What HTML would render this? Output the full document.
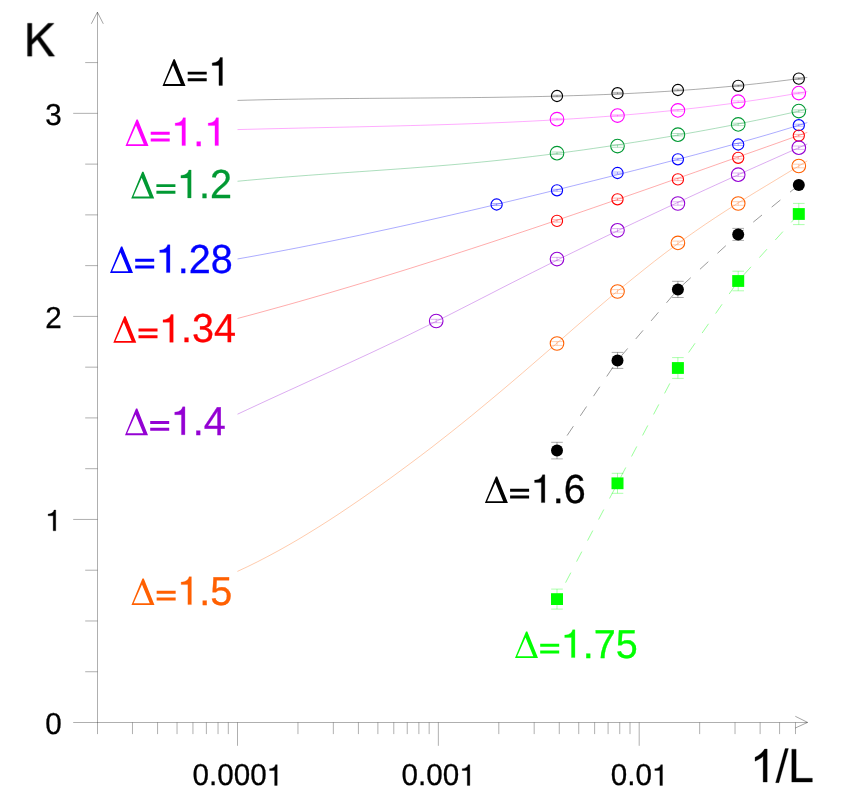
<!DOCTYPE html>
<html><head><meta charset="utf-8"><title>K vs 1/L</title>
<style>
html,body{margin:0;padding:0;background:#fff;}
svg{display:block;}
text{font-family:"Liberation Sans",sans-serif;font-kerning:none;text-rendering:geometricPrecision;}
.t{opacity:0.999;}
</style></head>
<body>
<svg width="848" height="809" viewBox="0 0 848 809">
<rect width="848" height="809" fill="#fff"/>
<path stroke="#000" stroke-width="0.32" fill="none" d="M97.5,734.1 V12.2 M73.2,722.5 H807.5 M85.2,671.74 H97.5 M85.2,620.98 H97.5 M85.2,570.21 H97.5 M73.2,519.45 H97.5 M85.2,468.69 H97.5 M85.2,417.92 H97.5 M85.2,367.16 H97.5 M73.2,316.40 H97.5 M85.2,265.64 H97.5 M85.2,214.88 H97.5 M85.2,164.11 H97.5 M73.2,113.35 H97.5 M85.2,62.59 H97.5 M132.48,722.5 V734.1 M157.57,722.5 V734.1 M177.04,722.5 V734.1 M192.94,722.5 V734.1 M206.39,722.5 V734.1 M218.04,722.5 V734.1 M228.31,722.5 V734.1 M237.50,722.5 V745.8 M297.96,722.5 V734.1 M333.33,722.5 V734.1 M358.42,722.5 V734.1 M377.89,722.5 V734.1 M393.79,722.5 V734.1 M407.24,722.5 V734.1 M418.89,722.5 V734.1 M429.16,722.5 V734.1 M438.35,722.5 V745.8 M498.81,722.5 V734.1 M534.18,722.5 V734.1 M559.27,722.5 V734.1 M578.74,722.5 V734.1 M594.64,722.5 V734.1 M608.09,722.5 V734.1 M619.74,722.5 V734.1 M630.01,722.5 V734.1 M639.20,722.5 V745.8 M699.66,722.5 V734.1 M735.03,722.5 V734.1 M760.12,722.5 V734.1 M779.59,722.5 V734.1 M795.49,722.5 V734.1"/>
<g stroke="#000" stroke-width="0.36" fill="none"><path d="M91.3,23.8 L97.4,12.2 L103.3,23.8"/><path d="M795.3,716.3 L807.6,722.4 L795.3,728"/></g>
<g class="t">
<g transform="translate(24.13,56.30)" fill="#000" stroke="#000" stroke-width="0.3"><path transform="translate(0.00,0) scale(46.0,-46.0)" stroke-width="0.00652" d="M0.0732,0 V0.7158 H0.168 V0.3608 L0.5234,0.7158 H0.6519 L0.3516,0.4258 L0.665,0 H0.54 L0.2852,0.3623 L0.168,0.248 V0 Z"/></g>
<g transform="translate(750.05,782.10)" fill="#000" stroke="#000" stroke-width="0.3"><path transform="translate(0.00,0) scale(46.0,-46.0)" stroke-width="0.00652" d="M0.3726,0 H0.2847 V0.5601 Q0.2529,0.5298 0.2014,0.4995 Q0.15,0.4692 0.1089,0.4541 V0.5391 Q0.1826,0.5737 0.2378,0.623 Q0.293,0.6724 0.3159,0.7188 H0.3726 Z"/><path transform="translate(25.58,0) scale(46.0,-46.0)" stroke-width="0.00652" d="M0,-0.0122 L0.2075,0.728 L0.2778,0.728 L0.0708,-0.0122 Z"/><path transform="translate(38.36,0) scale(46.0,-46.0)" stroke-width="0.00652" d="M0.0732,0 V0.7158 H0.168 V0.0845 H0.5205 V0 Z"/></g>
<g transform="translate(45.14,733.85)" fill="#000" stroke="#000" stroke-width="0.3"><text transform="translate(0.00,0) scale(1,1.022)" font-size="29.6">0</text></g>
<g transform="translate(45.14,530.80)" fill="#000" stroke="#000" stroke-width="0.3"><path transform="translate(0.00,0) scale(29.6,-29.6)" stroke-width="0.01014" d="M0.359,0 H0.271 V0.505 H0.101 V0.568 C0.19,0.574 0.275,0.6 0.301,0.703 H0.359 Z"/></g>
<g transform="translate(45.14,327.75)" fill="#000" stroke="#000" stroke-width="0.3"><text transform="translate(0.00,0) scale(1,1.022)" font-size="29.6">2</text></g>
<g transform="translate(45.14,124.70)" fill="#000" stroke="#000" stroke-width="0.3"><text transform="translate(0.00,0) scale(1,1.022)" font-size="29.6">3</text></g>
<g transform="translate(192.53,785.45)" fill="#000" stroke="#000" stroke-width="0.3"><text transform="translate(0.00,0) scale(1,1.022)" font-size="29.6">0.000</text><path transform="translate(74.07,0) scale(29.6,-29.6)" stroke-width="0.01014" d="M0.359,0 H0.271 V0.505 H0.101 V0.568 C0.19,0.574 0.275,0.6 0.301,0.703 H0.359 Z"/></g>
<g transform="translate(401.61,785.45)" fill="#000" stroke="#000" stroke-width="0.3"><text transform="translate(0.00,0) scale(1,1.022)" font-size="29.6">0.00</text><path transform="translate(57.61,0) scale(29.6,-29.6)" stroke-width="0.01014" d="M0.359,0 H0.271 V0.505 H0.101 V0.568 C0.19,0.574 0.275,0.6 0.301,0.703 H0.359 Z"/></g>
<g transform="translate(610.70,785.45)" fill="#000" stroke="#000" stroke-width="0.3"><text transform="translate(0.00,0) scale(1,1.022)" font-size="29.6">0.0</text><path transform="translate(41.15,0) scale(29.6,-29.6)" stroke-width="0.01014" d="M0.359,0 H0.271 V0.505 H0.101 V0.568 C0.19,0.574 0.275,0.6 0.301,0.703 H0.359 Z"/></g>
</g>
<path d="M237.5,100.41 L247.7,100.13 L257.9,99.89 L268.0,99.66 L278.2,99.46 L288.4,99.28 L298.6,99.12 L308.7,98.97 L318.9,98.84 L329.1,98.73 L339.2,98.62 L349.4,98.53 L359.6,98.44 L369.8,98.37 L379.9,98.29 L390.1,98.22 L400.3,98.16 L410.5,98.09 L420.6,98.02 L430.8,97.95 L441.0,97.87 L451.2,97.79 L461.3,97.70 L471.5,97.60 L481.7,97.48 L491.9,97.36 L502.0,97.21 L512.2,97.05 L522.4,96.88 L532.6,96.68 L542.8,96.46 L552.9,96.22 L563.1,95.95 L573.3,95.65 L583.5,95.33 L593.6,94.97 L603.8,94.58 L614.0,94.16 L624.1,93.70 L634.3,93.21 L644.5,92.68 L654.7,92.10 L664.8,91.49 L675.0,90.83 L685.2,90.12 L695.4,89.37 L705.5,88.56 L715.7,87.71 L725.9,86.80 L736.1,85.84 L746.2,84.83 L756.4,83.75 L766.6,82.62 L776.8,81.42 L786.9,80.17 L797.1,78.84 L807.3,77.45" fill="none" stroke="#000000" stroke-width="0.33"/>
<path d="M237.5,129.59 L247.7,129.32 L257.9,129.07 L268.0,128.82 L278.2,128.58 L288.4,128.35 L298.6,128.12 L308.7,127.90 L318.9,127.68 L329.1,127.46 L339.2,127.24 L349.4,127.02 L359.6,126.80 L369.8,126.57 L379.9,126.33 L390.1,126.09 L400.3,125.84 L410.5,125.57 L420.6,125.30 L430.8,125.01 L441.0,124.71 L451.2,124.39 L461.3,124.05 L471.5,123.70 L481.7,123.32 L491.9,122.92 L502.0,122.50 L512.2,122.05 L522.4,121.57 L532.6,121.07 L542.8,120.54 L552.9,119.97 L563.1,119.38 L573.3,118.75 L583.5,118.08 L593.6,117.38 L603.8,116.64 L614.0,115.86 L624.1,115.04 L634.3,114.18 L644.5,113.27 L654.7,112.32 L664.8,111.32 L675.0,110.27 L685.2,109.17 L695.4,108.02 L705.5,106.82 L715.7,105.57 L725.9,104.25 L736.1,102.88 L746.2,101.46 L756.4,99.97 L766.6,98.42 L776.8,96.81 L786.9,95.13 L797.1,93.39 L807.3,91.58" fill="none" stroke="#ff00ff" stroke-width="0.33"/>
<path d="M237.5,181.26 L247.7,180.30 L257.9,179.38 L268.0,178.50 L278.2,177.65 L288.4,176.84 L298.6,176.05 L308.7,175.29 L318.9,174.54 L329.1,173.81 L339.2,173.09 L349.4,172.38 L359.6,171.68 L369.8,170.97 L379.9,170.26 L390.1,169.54 L400.3,168.80 L410.5,168.05 L420.6,167.28 L430.8,166.49 L441.0,165.67 L451.2,164.82 L461.3,163.93 L471.5,163.00 L481.7,162.03 L491.9,161.01 L502.0,159.94 L512.2,158.83 L522.4,157.68 L532.6,156.48 L542.8,155.24 L552.9,153.95 L563.1,152.63 L573.3,151.26 L583.5,149.86 L593.6,148.41 L603.8,146.93 L614.0,145.42 L624.1,143.87 L634.3,142.29 L644.5,140.67 L654.7,139.02 L664.8,137.33 L675.0,135.60 L685.2,133.83 L695.4,132.03 L705.5,130.18 L715.7,128.29 L725.9,126.35 L736.1,124.37 L746.2,122.34 L756.4,120.27 L766.6,118.14 L776.8,115.97 L786.9,113.75 L797.1,111.47 L807.3,109.15" fill="none" stroke="#009933" stroke-width="0.33"/>
<path d="M237.5,258.98 L247.7,257.17 L257.9,255.31 L268.0,253.43 L278.2,251.52 L288.4,249.58 L298.6,247.61 L308.7,245.61 L318.9,243.59 L329.1,241.54 L339.2,239.46 L349.4,237.35 L359.6,235.22 L369.8,233.07 L379.9,230.89 L390.1,228.69 L400.3,226.46 L410.5,224.21 L420.6,221.94 L430.8,219.65 L441.0,217.34 L451.2,215.01 L461.3,212.66 L471.5,210.30 L481.7,207.91 L491.9,205.51 L502.0,203.09 L512.2,200.65 L522.4,198.20 L532.6,195.73 L542.8,193.25 L552.9,190.76 L563.1,188.25 L573.3,185.73 L583.5,183.20 L593.6,180.66 L603.8,178.11 L614.0,175.56 L624.1,173.00 L634.3,170.44 L644.5,167.86 L654.7,165.27 L664.8,162.66 L675.0,160.03 L685.2,157.38 L695.4,154.69 L705.5,151.99 L715.7,149.24 L725.9,146.46 L736.1,143.65 L746.2,140.79 L756.4,137.89 L766.6,134.94 L776.8,131.94 L786.9,128.88 L797.1,125.77 L807.3,122.60" fill="none" stroke="#0000ff" stroke-width="0.33"/>
<path d="M237.5,318.46 L247.7,315.75 L257.9,313.01 L268.0,310.23 L278.2,307.42 L288.4,304.58 L298.6,301.71 L308.7,298.80 L318.9,295.87 L329.1,292.91 L339.2,289.92 L349.4,286.90 L359.6,283.85 L369.8,280.78 L379.9,277.67 L390.1,274.55 L400.3,271.40 L410.5,268.22 L420.6,265.02 L430.8,261.80 L441.0,258.56 L451.2,255.29 L461.3,252.01 L471.5,248.70 L481.7,245.37 L491.9,242.03 L502.0,238.66 L512.2,235.28 L522.4,231.88 L532.6,228.47 L542.8,225.04 L552.9,221.59 L563.1,218.13 L573.3,214.66 L583.5,211.17 L593.6,207.67 L603.8,204.15 L614.0,200.63 L624.1,197.10 L634.3,193.55 L644.5,190.00 L654.7,186.44 L664.8,182.87 L675.0,179.29 L685.2,175.70 L695.4,172.11 L705.5,168.52 L715.7,164.92 L725.9,161.31 L736.1,157.70 L746.2,154.09 L756.4,150.48 L766.6,146.86 L776.8,143.25 L786.9,139.63 L797.1,136.01 L807.3,132.40" fill="none" stroke="#ff0000" stroke-width="0.33"/>
<path d="M237.5,414.20 L247.7,409.43 L257.9,404.70 L268.0,400.00 L278.2,395.33 L288.4,390.67 L298.6,386.03 L308.7,381.39 L318.9,376.76 L329.1,372.12 L339.2,367.47 L349.4,362.80 L359.6,358.10 L369.8,353.38 L379.9,348.62 L390.1,343.81 L400.3,338.96 L410.5,334.05 L420.6,329.08 L430.8,324.05 L441.0,318.96 L451.2,313.83 L461.3,308.66 L471.5,303.47 L481.7,298.26 L491.9,293.05 L502.0,287.84 L512.2,282.66 L522.4,277.50 L532.6,272.38 L542.8,267.29 L552.9,262.23 L563.1,257.20 L573.3,252.20 L583.5,247.24 L593.6,242.30 L603.8,237.39 L614.0,232.51 L624.1,227.65 L634.3,222.82 L644.5,218.01 L654.7,213.23 L664.8,208.46 L675.0,203.72 L685.2,199.00 L695.4,194.31 L705.5,189.63 L715.7,184.97 L725.9,180.33 L736.1,175.71 L746.2,171.12 L756.4,166.54 L766.6,161.99 L776.8,157.45 L786.9,152.94 L797.1,148.44 L807.3,143.97" fill="none" stroke="#9400d3" stroke-width="0.33"/>
<path d="M237.4,571.41 L247.6,566.65 L257.8,561.63 L267.9,556.37 L278.1,550.88 L288.3,545.17 L298.5,539.25 L308.6,533.13 L318.8,526.83 L329.0,520.35 L339.2,513.70 L349.3,506.90 L359.5,499.96 L369.7,492.89 L379.9,485.69 L390.1,478.39 L400.2,470.97 L410.4,463.43 L420.6,455.78 L430.8,448.02 L440.9,440.13 L451.1,432.11 L461.3,423.98 L471.5,415.73 L481.6,407.37 L491.8,398.92 L502.0,390.37 L512.2,381.74 L522.4,373.03 L532.5,364.28 L542.7,355.48 L552.9,346.65 L563.1,337.80 L573.2,328.96 L583.4,320.15 L593.6,311.39 L603.8,302.71 L613.9,294.13 L624.1,285.67 L634.3,277.34 L644.5,269.16 L654.6,261.15 L664.8,253.33 L675.0,245.72 L685.2,238.33 L695.4,231.16 L705.5,224.19 L715.7,217.40 L725.9,210.76 L736.1,204.28 L746.2,197.92 L756.4,191.65 L766.6,185.47 L776.8,179.32 L786.9,173.20 L797.1,167.06 L807.3,160.89" fill="none" stroke="#ff6000" stroke-width="0.33"/>
<g fill="none" stroke="#000000"><path d="M793.0,77.8 h11.6 M793.0,79.4 h11.6 M798.8,77.8 v1.6" stroke-width="0.3"/><circle cx="798.8" cy="78.6" r="5.6" stroke-width="1.1"/><path d="M732.4,85.0 h11.6 M732.4,86.6 h11.6 M738.2,85.0 v1.6" stroke-width="0.3"/><circle cx="738.2" cy="85.8" r="5.6" stroke-width="1.1"/><path d="M672.1,89.2 h11.6 M672.1,90.8 h11.6 M677.9,89.2 v1.6" stroke-width="0.3"/><circle cx="677.9" cy="90.0" r="5.6" stroke-width="1.1"/><path d="M611.7,92.4 h11.6 M611.7,94.0 h11.6 M617.5,92.4 v1.6" stroke-width="0.3"/><circle cx="617.5" cy="93.2" r="5.6" stroke-width="1.1"/><path d="M551.2,95.2 h11.6 M551.2,96.8 h11.6 M557.0,95.2 v1.6" stroke-width="0.3"/><circle cx="557.0" cy="96.0" r="5.6" stroke-width="1.1"/></g>
<g fill="none" stroke="#ff00ff"><path d="M793.0,92.3 h11.6 M793.0,93.9 h11.6 M798.8,92.3 v1.6" stroke-width="0.3"/><circle cx="798.8" cy="93.1" r="6.8" stroke-width="1.1"/><path d="M732.4,100.9 h11.6 M732.4,102.5 h11.6 M738.2,100.9 v1.6" stroke-width="0.3"/><circle cx="738.2" cy="101.7" r="6.8" stroke-width="1.1"/><path d="M672.1,109.6 h11.6 M672.1,111.2 h11.6 M677.9,109.6 v1.6" stroke-width="0.3"/><circle cx="677.9" cy="110.4" r="6.8" stroke-width="1.1"/><path d="M611.7,114.8 h11.6 M611.7,116.4 h11.6 M617.5,114.8 v1.6" stroke-width="0.3"/><circle cx="617.5" cy="115.6" r="6.8" stroke-width="1.1"/><path d="M551.2,118.4 h11.6 M551.2,120.0 h11.6 M557.0,118.4 v1.6" stroke-width="0.3"/><circle cx="557.0" cy="119.2" r="6.8" stroke-width="1.1"/></g>
<g fill="none" stroke="#009933"><path d="M793.0,109.9 h11.6 M793.0,112.3 h11.6 M798.8,109.9 v2.4" stroke-width="0.3"/><circle cx="798.8" cy="111.1" r="6.8" stroke-width="1.1"/><path d="M732.4,123.2 h11.6 M732.4,125.6 h11.6 M738.2,123.2 v2.4" stroke-width="0.3"/><circle cx="738.2" cy="124.4" r="6.8" stroke-width="1.1"/><path d="M672.1,133.5 h11.6 M672.1,135.9 h11.6 M677.9,133.5 v2.4" stroke-width="0.3"/><circle cx="677.9" cy="134.7" r="6.8" stroke-width="1.1"/><path d="M611.7,144.9 h11.6 M611.7,147.3 h11.6 M617.5,144.9 v2.4" stroke-width="0.3"/><circle cx="617.5" cy="146.1" r="6.8" stroke-width="1.1"/><path d="M551.2,152.0 h11.6 M551.2,154.4 h11.6 M557.0,152.0 v2.4" stroke-width="0.3"/><circle cx="557.0" cy="153.2" r="6.8" stroke-width="1.1"/></g>
<g fill="none" stroke="#0000ff"><path d="M793.0,124.2 h11.6 M793.0,126.2 h11.6 M798.8,124.2 v2.0" stroke-width="0.3"/><circle cx="798.8" cy="125.2" r="5.6" stroke-width="1.1"/><path d="M732.4,143.5 h11.6 M732.4,145.5 h11.6 M738.2,143.5 v2.0" stroke-width="0.3"/><circle cx="738.2" cy="144.5" r="5.6" stroke-width="1.1"/><path d="M672.1,158.3 h11.6 M672.1,160.3 h11.6 M677.9,158.3 v2.0" stroke-width="0.3"/><circle cx="677.9" cy="159.3" r="5.6" stroke-width="1.1"/><path d="M611.7,172.0 h11.6 M611.7,174.0 h11.6 M617.5,172.0 v2.0" stroke-width="0.3"/><circle cx="617.5" cy="173.0" r="5.6" stroke-width="1.1"/><path d="M551.2,189.3 h11.6 M551.2,191.3 h11.6 M557.0,189.3 v2.0" stroke-width="0.3"/><circle cx="557.0" cy="190.3" r="5.6" stroke-width="1.1"/><path d="M490.8,203.5 h11.6 M490.8,205.5 h11.6 M496.6,203.5 v2.0" stroke-width="0.3"/><circle cx="496.6" cy="204.5" r="5.6" stroke-width="1.1"/></g>
<g fill="none" stroke="#ff0000"><path d="M793.0,134.4 h11.6 M793.0,136.8 h11.6 M798.8,134.4 v2.4" stroke-width="0.3"/><circle cx="798.8" cy="135.6" r="5.6" stroke-width="1.1"/><path d="M732.4,156.6 h11.6 M732.4,159.0 h11.6 M738.2,156.6 v2.4" stroke-width="0.3"/><circle cx="738.2" cy="157.8" r="5.6" stroke-width="1.1"/><path d="M672.1,178.2 h11.6 M672.1,180.6 h11.6 M677.9,178.2 v2.4" stroke-width="0.3"/><circle cx="677.9" cy="179.4" r="5.6" stroke-width="1.1"/><path d="M611.7,198.1 h11.6 M611.7,200.5 h11.6 M617.5,198.1 v2.4" stroke-width="0.3"/><circle cx="617.5" cy="199.3" r="5.6" stroke-width="1.1"/><path d="M551.2,219.7 h11.6 M551.2,222.1 h11.6 M557.0,219.7 v2.4" stroke-width="0.3"/><circle cx="557.0" cy="220.9" r="5.6" stroke-width="1.1"/></g>
<g fill="none" stroke="#9400d3"><path d="M793.0,146.0 h11.6 M793.0,149.4 h11.6 M798.8,146.0 v3.4" stroke-width="0.3"/><circle cx="798.8" cy="147.7" r="6.8" stroke-width="1.1"/><path d="M732.4,173.0 h11.6 M732.4,176.4 h11.6 M738.2,173.0 v3.4" stroke-width="0.3"/><circle cx="738.2" cy="174.7" r="6.8" stroke-width="1.1"/><path d="M672.1,201.8 h11.6 M672.1,205.2 h11.6 M677.9,201.8 v3.4" stroke-width="0.3"/><circle cx="677.9" cy="203.5" r="6.8" stroke-width="1.1"/><path d="M611.7,228.6 h11.6 M611.7,232.0 h11.6 M617.5,228.6 v3.4" stroke-width="0.3"/><circle cx="617.5" cy="230.3" r="6.8" stroke-width="1.1"/><path d="M551.2,257.4 h11.6 M551.2,260.8 h11.6 M557.0,257.4 v3.4" stroke-width="0.3"/><circle cx="557.0" cy="259.1" r="6.8" stroke-width="1.1"/><path d="M430.4,319.3 h11.6 M430.4,322.7 h11.6 M436.2,319.3 v3.4" stroke-width="0.3"/><circle cx="436.2" cy="321.0" r="6.8" stroke-width="1.1"/></g>
<g fill="none" stroke="#ff6000"><path d="M793.0,164.2 h11.6 M793.0,167.8 h11.6 M798.8,164.2 v3.7" stroke-width="0.3"/><circle cx="798.8" cy="166.0" r="6.8" stroke-width="1.1"/><path d="M732.4,201.7 h11.6 M732.4,205.3 h11.6 M738.2,201.7 v3.7" stroke-width="0.3"/><circle cx="738.2" cy="203.5" r="6.8" stroke-width="1.1"/><path d="M672.1,241.1 h11.6 M672.1,244.8 h11.6 M677.9,241.1 v3.7" stroke-width="0.3"/><circle cx="677.9" cy="242.9" r="6.8" stroke-width="1.1"/><path d="M611.7,289.6 h11.6 M611.7,293.4 h11.6 M617.5,289.6 v3.7" stroke-width="0.3"/><circle cx="617.5" cy="291.5" r="6.8" stroke-width="1.1"/><path d="M551.2,341.6 h11.6 M551.2,345.4 h11.6 M557.0,341.6 v3.7" stroke-width="0.3"/><circle cx="557.0" cy="343.5" r="6.8" stroke-width="1.1"/></g>
<path d="M798.8,185.0 L738.2,234.4 L677.9,289.4 L617.5,360.4 L557.0,450.6" fill="none" stroke="#000" stroke-width="0.4" stroke-dasharray="11.3 12.43" stroke-dashoffset="0"/>
<path d="M798.8,214.0 L738.2,281.0 L677.9,368.0 L617.5,483.3 L557.0,599.1" fill="none" stroke="#00ff00" stroke-width="0.4" stroke-dasharray="11.3 12.43" stroke-dashoffset="0"/>
<circle cx="798.8" cy="185.0" r="6" fill="#000"/><path d="M732.4,228.4 h11.6 M732.4,240.4 h11.6 M738.2,228.4 v12.0" stroke="#000" stroke-width="0.33" fill="none"/><circle cx="738.2" cy="234.4" r="6" fill="#000"/><path d="M672.1,281.3 h11.6 M672.1,297.5 h11.6 M677.9,281.3 v16.2" stroke="#000" stroke-width="0.33" fill="none"/><circle cx="677.9" cy="289.4" r="6" fill="#000"/><path d="M611.7,352.4 h11.6 M611.7,368.4 h11.6 M617.5,352.4 v16.0" stroke="#000" stroke-width="0.33" fill="none"/><circle cx="617.5" cy="360.4" r="6" fill="#000"/><path d="M551.2,442.3 h11.6 M551.2,458.9 h11.6 M557.0,442.3 v16.6" stroke="#000" stroke-width="0.33" fill="none"/><circle cx="557.0" cy="450.6" r="6" fill="#000"/><path d="M793.0,203.4 h11.6 M793.0,224.6 h11.6 M798.8,203.4 v21.2" stroke="#00ff00" stroke-width="0.33" fill="none"/><rect x="792.8" y="208.1" width="12" height="11.8" fill="#00ff00"/><path d="M732.4,271.2 h11.6 M732.4,290.8 h11.6 M738.2,271.2 v19.6" stroke="#00ff00" stroke-width="0.33" fill="none"/><rect x="732.2" y="275.1" width="12" height="11.8" fill="#00ff00"/><path d="M672.1,357.6 h11.6 M672.1,378.4 h11.6 M677.9,357.6 v20.8" stroke="#00ff00" stroke-width="0.33" fill="none"/><rect x="671.9" y="362.1" width="12" height="11.8" fill="#00ff00"/><path d="M611.7,473.3 h11.6 M611.7,493.3 h11.6 M617.5,473.3 v20.0" stroke="#00ff00" stroke-width="0.33" fill="none"/><rect x="611.5" y="477.4" width="12" height="11.8" fill="#00ff00"/><path d="M551.2,589.1 h11.6 M551.2,609.1 h11.6 M557.0,589.1 v20.0" stroke="#00ff00" stroke-width="0.33" fill="none"/><rect x="551.0" y="593.2" width="12" height="11.8" fill="#00ff00"/>
<g class="t">
<path transform="translate(162.50,85.90)" fill="#000000" fill-rule="evenodd" d="M0,0 L11.0,-26.6 L12.3,-26.6 L23.0,0 Z M2.2,-1.9 L18.3,-1.9 L10.5,-20.6 Z"/>
<g transform="translate(185.09,85.40)" fill="#000000" stroke="#000000" stroke-width="0.3"><path stroke="none" d="M2.61,-13.76 h19.01 v2.97 h-19.01 Z M2.61,-7.03 h19.01 v2.97 h-19.01 Z"/><path transform="translate(23.13,0) scale(39.6,-39.6)" stroke-width="0.00758" d="M0.359,0 H0.271 V0.505 H0.101 V0.568 C0.19,0.574 0.275,0.6 0.301,0.703 H0.359 Z"/></g>
<path transform="translate(125.50,146.10)" fill="#ff00ff" fill-rule="evenodd" d="M0,0 L11.0,-26.6 L12.3,-26.6 L23.0,0 Z M2.2,-1.9 L18.3,-1.9 L10.5,-20.6 Z"/>
<g transform="translate(148.09,145.60)" fill="#ff00ff" stroke="#ff00ff" stroke-width="0.3"><path stroke="none" d="M2.61,-13.76 h19.01 v2.97 h-19.01 Z M2.61,-7.03 h19.01 v2.97 h-19.01 Z"/><path transform="translate(23.13,0) scale(39.6,-39.6)" stroke-width="0.00758" d="M0.359,0 H0.271 V0.505 H0.101 V0.568 C0.19,0.574 0.275,0.6 0.301,0.703 H0.359 Z"/><text transform="translate(45.15,0) scale(1,1.022)" font-size="39.6">.</text><path transform="translate(56.15,0) scale(39.6,-39.6)" stroke-width="0.00758" d="M0.359,0 H0.271 V0.505 H0.101 V0.568 C0.19,0.574 0.275,0.6 0.301,0.703 H0.359 Z"/></g>
<path transform="translate(131.20,198.40)" fill="#009933" fill-rule="evenodd" d="M0,0 L11.0,-26.6 L12.3,-26.6 L23.0,0 Z M2.2,-1.9 L18.3,-1.9 L10.5,-20.6 Z"/>
<g transform="translate(153.79,197.90)" fill="#009933" stroke="#009933" stroke-width="0.3"><path stroke="none" d="M2.61,-13.76 h19.01 v2.97 h-19.01 Z M2.61,-7.03 h19.01 v2.97 h-19.01 Z"/><path transform="translate(23.13,0) scale(39.6,-39.6)" stroke-width="0.00758" d="M0.359,0 H0.271 V0.505 H0.101 V0.568 C0.19,0.574 0.275,0.6 0.301,0.703 H0.359 Z"/><text transform="translate(45.15,0) scale(1,1.022)" font-size="39.6">.2</text></g>
<path transform="translate(110.00,273.10)" fill="#0000ff" fill-rule="evenodd" d="M0,0 L11.0,-26.6 L12.3,-26.6 L23.0,0 Z M2.2,-1.9 L18.3,-1.9 L10.5,-20.6 Z"/>
<g transform="translate(132.59,272.60)" fill="#0000ff" stroke="#0000ff" stroke-width="0.3"><path stroke="none" d="M2.61,-13.76 h19.01 v2.97 h-19.01 Z M2.61,-7.03 h19.01 v2.97 h-19.01 Z"/><path transform="translate(23.13,0) scale(39.6,-39.6)" stroke-width="0.00758" d="M0.359,0 H0.271 V0.505 H0.101 V0.568 C0.19,0.574 0.275,0.6 0.301,0.703 H0.359 Z"/><text transform="translate(45.15,0) scale(1,1.022)" font-size="39.6">.28</text></g>
<path transform="translate(113.30,342.80)" fill="#ff0000" fill-rule="evenodd" d="M0,0 L11.0,-26.6 L12.3,-26.6 L23.0,0 Z M2.2,-1.9 L18.3,-1.9 L10.5,-20.6 Z"/>
<g transform="translate(135.89,342.30)" fill="#ff0000" stroke="#ff0000" stroke-width="0.3"><path stroke="none" d="M2.61,-13.76 h19.01 v2.97 h-19.01 Z M2.61,-7.03 h19.01 v2.97 h-19.01 Z"/><path transform="translate(23.13,0) scale(39.6,-39.6)" stroke-width="0.00758" d="M0.359,0 H0.271 V0.505 H0.101 V0.568 C0.19,0.574 0.275,0.6 0.301,0.703 H0.359 Z"/><text transform="translate(45.15,0) scale(1,1.022)" font-size="39.6">.34</text></g>
<path transform="translate(125.00,435.20)" fill="#9400d3" fill-rule="evenodd" d="M0,0 L11.0,-26.6 L12.3,-26.6 L23.0,0 Z M2.2,-1.9 L18.3,-1.9 L10.5,-20.6 Z"/>
<g transform="translate(147.59,434.70)" fill="#9400d3" stroke="#9400d3" stroke-width="0.3"><path stroke="none" d="M2.61,-13.76 h19.01 v2.97 h-19.01 Z M2.61,-7.03 h19.01 v2.97 h-19.01 Z"/><path transform="translate(23.13,0) scale(39.6,-39.6)" stroke-width="0.00758" d="M0.359,0 H0.271 V0.505 H0.101 V0.568 C0.19,0.574 0.275,0.6 0.301,0.703 H0.359 Z"/><text transform="translate(45.15,0) scale(1,1.022)" font-size="39.6">.4</text></g>
<path transform="translate(131.45,605.10)" fill="#ff6000" fill-rule="evenodd" d="M0,0 L11.0,-26.6 L12.3,-26.6 L23.0,0 Z M2.2,-1.9 L18.3,-1.9 L10.5,-20.6 Z"/>
<g transform="translate(154.04,604.60)" fill="#ff6000" stroke="#ff6000" stroke-width="0.3"><path stroke="none" d="M2.61,-13.76 h19.01 v2.97 h-19.01 Z M2.61,-7.03 h19.01 v2.97 h-19.01 Z"/><path transform="translate(23.13,0) scale(39.6,-39.6)" stroke-width="0.00758" d="M0.359,0 H0.271 V0.505 H0.101 V0.568 C0.19,0.574 0.275,0.6 0.301,0.703 H0.359 Z"/><text transform="translate(45.15,0) scale(1,1.022)" font-size="39.6">.5</text></g>
<path transform="translate(484.90,503.10)" fill="#000000" fill-rule="evenodd" d="M0,0 L11.0,-26.6 L12.3,-26.6 L23.0,0 Z M2.2,-1.9 L18.3,-1.9 L10.5,-20.6 Z"/>
<g transform="translate(507.49,502.60)" fill="#000000" stroke="#000000" stroke-width="0.3"><path stroke="none" d="M2.61,-13.76 h19.01 v2.97 h-19.01 Z M2.61,-7.03 h19.01 v2.97 h-19.01 Z"/><path transform="translate(23.13,0) scale(39.6,-39.6)" stroke-width="0.00758" d="M0.359,0 H0.271 V0.505 H0.101 V0.568 C0.19,0.574 0.275,0.6 0.301,0.703 H0.359 Z"/><text transform="translate(45.15,0) scale(1,1.022)" font-size="39.6">.6</text></g>
<path transform="translate(515.00,658.10)" fill="#00ff00" fill-rule="evenodd" d="M0,0 L11.0,-26.6 L12.3,-26.6 L23.0,0 Z M2.2,-1.9 L18.3,-1.9 L10.5,-20.6 Z"/>
<g transform="translate(537.59,657.60)" fill="#00ff00" stroke="#00ff00" stroke-width="0.3"><path stroke="none" d="M2.61,-13.76 h19.01 v2.97 h-19.01 Z M2.61,-7.03 h19.01 v2.97 h-19.01 Z"/><path transform="translate(23.13,0) scale(39.6,-39.6)" stroke-width="0.00758" d="M0.359,0 H0.271 V0.505 H0.101 V0.568 C0.19,0.574 0.275,0.6 0.301,0.703 H0.359 Z"/><text transform="translate(45.15,0) scale(1,1.022)" font-size="39.6">.75</text></g>
</g>
</svg>
</body></html>
